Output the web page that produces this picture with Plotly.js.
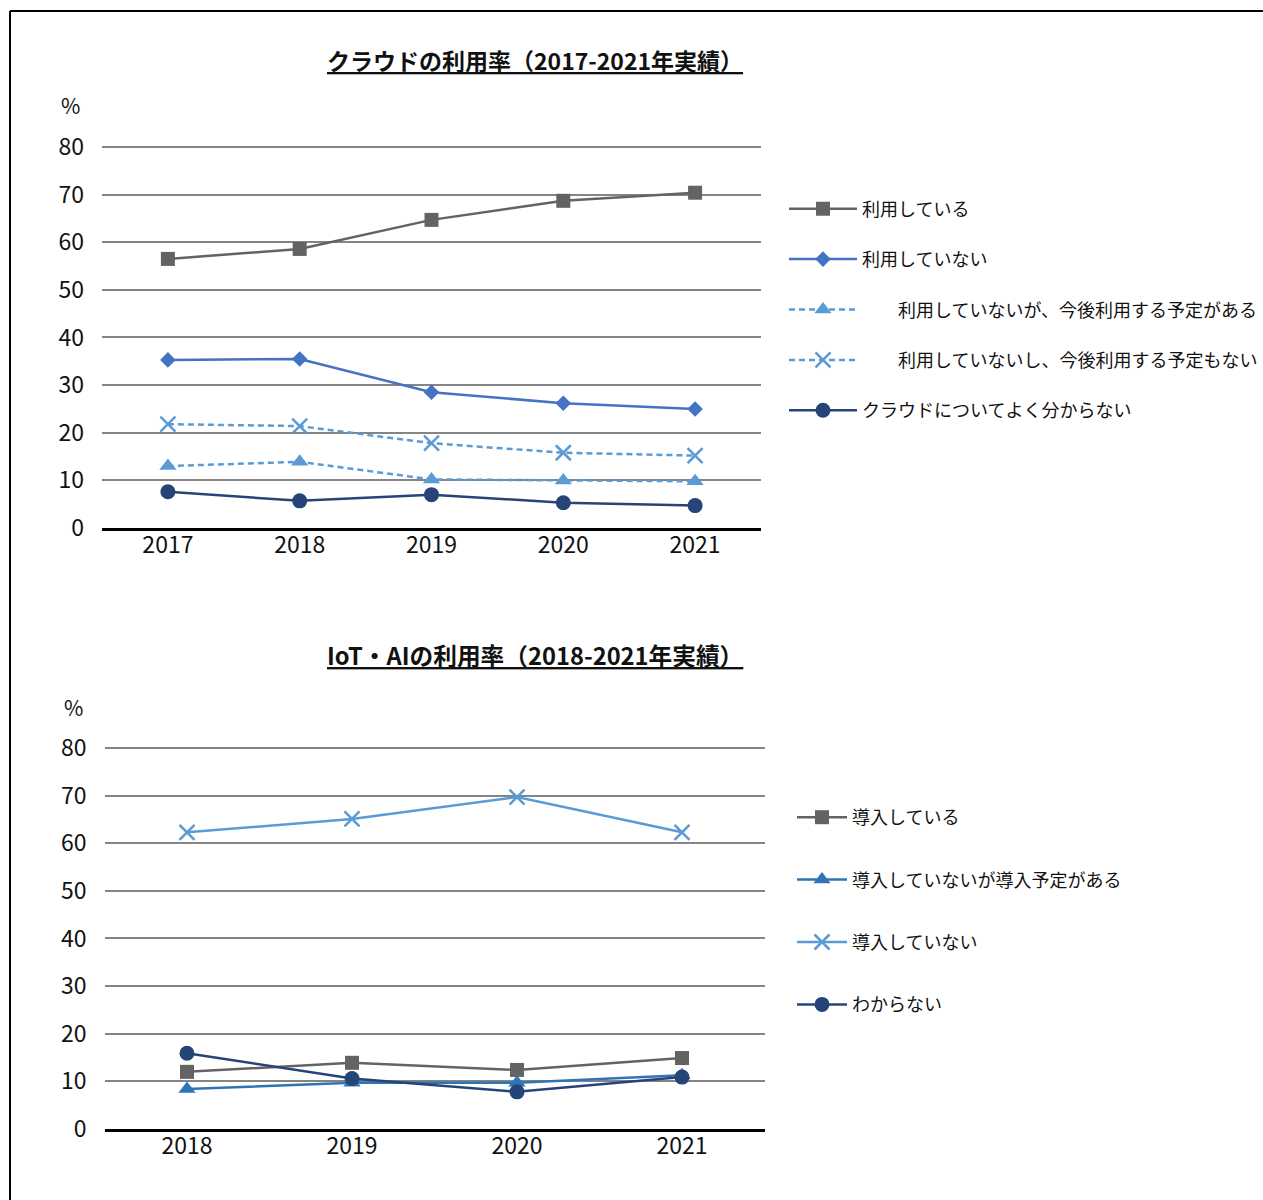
<!DOCTYPE html>
<html>
<head>
<meta charset="utf-8">
<script src="https://cdn.plot.ly/plotly-3.0.1.min.js"></script>
<style>
  html, body { margin: 0; padding: 0; background: #fff; }
  #chart { width: 1263px; height: 1200px; }
</style>
</head>
<body>
<div id="chart"></div>
<script>
// クラウドの利用率（2017-2021年）
const cloudYears = ['2017', '2018', '2019', '2020', '2021'];
const cloudUsing = [56.5, 58.6, 64.7, 68.7, 70.4];
const cloudNotUsing = [35.3, 35.5, 28.5, 26.2, 25.0];
const cloudPlanned = [13.0, 13.9, 10.2, 10.0, 9.8];
const cloudNoPlan = [21.8, 21.4, 17.8, 15.8, 15.2];
const cloudUnknown = [7.6, 5.7, 7.0, 5.3, 4.7];

// IoT・AIの利用率（2018-2021年）
const iotYears = ['2018', '2019', '2020', '2021'];
const iotAdopted = [12.0, 13.9, 12.4, 14.9];
const iotPlanned = [8.4, 9.7, 9.7, 11.3];
const iotNotAdopted = [62.3, 65.1, 69.7, 62.3];
const iotUnknown = [15.9, 10.6, 7.8, 10.9];

const yTicks = [0, 10, 20, 30, 40, 50, 60, 70, 80];

const FONT = '"Noto Sans CJK JP", "Noto Sans", sans-serif';
const GRAY = '#636363';
const BLUE = '#4472C4';
const LIGHT = '#5B9BD5';
const MID = '#2E75B6';
const NAVY = '#264478';

function series(x, y, name, color, symbol, size, opts) {
  opts = opts || {};
  const marker = { symbol: symbol, size: size, color: color };
  if (symbol === 'x-thin') marker.line = { color: color, width: 2.5 };
  return Object.assign({
    type: 'scatter', mode: 'lines+markers', x: x, y: y, name: name,
    line: { color: color, width: 2.5, dash: opts.dash || 'solid' },
    marker: marker,
    cliponaxis: false
  }, opts.extra || {});
}

const traces = [
  series(cloudYears, cloudUsing, '利用している', GRAY, 'square', 14, { extra: { legendgroup: 'a1' } }),
  series(cloudYears, cloudNotUsing, '利用していない', BLUE, 'diamond', 12, { extra: { legendgroup: 'a2' } }),
  series(cloudYears, cloudPlanned, '\u3000\u3000利用していないが、今後利用する予定がある', LIGHT, 'triangle-up', 15, { dash: '6px,4px', extra: { legendgroup: 'a3' } }),
  series(cloudYears, cloudNoPlan, '\u3000\u3000利用していないし、今後利用する予定もない', LIGHT, 'x-thin', 15, { dash: '6px,4px', extra: { legendgroup: 'a4' } }),
  series(cloudYears, cloudUnknown, 'クラウドについてよく分からない', NAVY, 'circle', 15, { extra: { legendgroup: 'a5' } }),

  series(iotYears, iotAdopted, '導入している', GRAY, 'square', 14, { extra: { xaxis: 'x2', yaxis: 'y2', legend: 'legend2', legendgroup: 'b1' } }),
  series(iotYears, iotPlanned, '導入していないが導入予定がある', MID, 'triangle-up', 15, { extra: { xaxis: 'x2', yaxis: 'y2', legend: 'legend2', legendgroup: 'b2' } }),
  series(iotYears, iotNotAdopted, '導入していない', LIGHT, 'x-thin', 15, { extra: { xaxis: 'x2', yaxis: 'y2', legend: 'legend2', legendgroup: 'b3' } }),
  series(iotYears, iotUnknown, 'わからない', NAVY, 'circle', 15, { extra: { xaxis: 'x2', yaxis: 'y2', legend: 'legend2', legendgroup: 'b4' } })
];

const W = 1263, H = 1200;
const px = v => v / W;
const py = v => 1 - v / H;
const Y_TOP = 80.5; // headroom so the 80 grid line is not clipped at the plot edge
const PER_UNIT = 381 / 80;

function xAxis(domain, n) {
  return {
    domain: domain, type: 'category', range: [-0.5, n - 0.5],
    showgrid: false, zeroline: false, showline: true, linecolor: '#000', linewidth: 2.5,
    ticks: '', ticklabelstandoff: -5,
    tickfont: { family: FONT, size: 23, color: '#111' }, fixedrange: true
  };
}
function yAxis(bottomPx, anchor) {
  const topPx = bottomPx - Y_TOP * PER_UNIT;
  return {
    domain: [py(bottomPx), py(topPx)], anchor: anchor, range: [0, Y_TOP], tickvals: yTicks,
    showgrid: true, gridcolor: '#858585', gridwidth: 2,
    zeroline: false, showline: false, ticks: '', ticklabelstandoff: 17,
    tickfont: { family: FONT, size: 23, color: '#111' }, fixedrange: true
  };
}

const layout = {
  width: W, height: H,
  margin: { l: 0, r: 0, t: 0, b: 0 },
  paper_bgcolor: '#fff', plot_bgcolor: '#fff',
  font: { family: FONT, color: '#111' },
  xaxis: xAxis([px(102), px(761)], cloudYears.length),
  yaxis: yAxis(528, 'x'),
  xaxis2: Object.assign(xAxis([px(104.5), px(764.5)], iotYears.length), { anchor: 'y2' }),
  yaxis2: yAxis(1129, 'x2'),
  showlegend: true,
  legend: {
    x: px(784), y: py(190.5), xanchor: 'left', yanchor: 'top',
    font: { family: FONT, size: 18, color: '#111' },
    itemwidth: 68, tracegroupgap: 24, traceorder: 'grouped',
    bgcolor: 'rgba(0,0,0,0)', itemclick: false, itemdoubleclick: false
  },
  legend2: {
    x: px(792), y: py(799), xanchor: 'left', yanchor: 'top',
    font: { family: FONT, size: 18, color: '#111' },
    itemwidth: 50, tracegroupgap: 36, traceorder: 'grouped',
    bgcolor: 'rgba(0,0,0,0)', itemclick: false, itemdoubleclick: false
  },
  annotations: [
    { text: '<b><u>クラウドの利用率（2017-2021年実績）</u></b>', xref: 'paper', yref: 'paper',
      x: px(535), y: py(60), xanchor: 'center', yanchor: 'middle', showarrow: false,
      font: { family: FONT, size: 23, color: '#111' } },
    { text: '<b><u>IoT・AIの利用率（2018-2021年実績）</u></b>', xref: 'paper', yref: 'paper',
      x: px(535), y: py(655), xanchor: 'center', yanchor: 'middle', showarrow: false,
      font: { family: FONT, size: 23.7, color: '#111' } },
    { text: '%', xref: 'paper', yref: 'paper', x: px(70), y: py(105), xanchor: 'center', yanchor: 'middle',
      showarrow: false, font: { family: FONT, size: 21, color: '#111' } },
    { text: '%', xref: 'paper', yref: 'paper', x: px(73), y: py(707), xanchor: 'center', yanchor: 'middle',
      showarrow: false, font: { family: FONT, size: 21, color: '#111' } }
  ],
  shapes: [
    { type: 'line', xref: 'paper', yref: 'paper', x0: px(10), x1: 1, y0: py(11), y1: py(11),
      line: { color: '#000', width: 2 } },
    { type: 'line', xref: 'paper', yref: 'paper', x0: px(10), x1: px(10), y0: py(11), y1: 0,
      line: { color: '#000', width: 2 } }
  ]
};

Plotly.newPlot('chart', traces, layout, { staticPlot: true, displayModeBar: false });
</script>
</body>
</html>
